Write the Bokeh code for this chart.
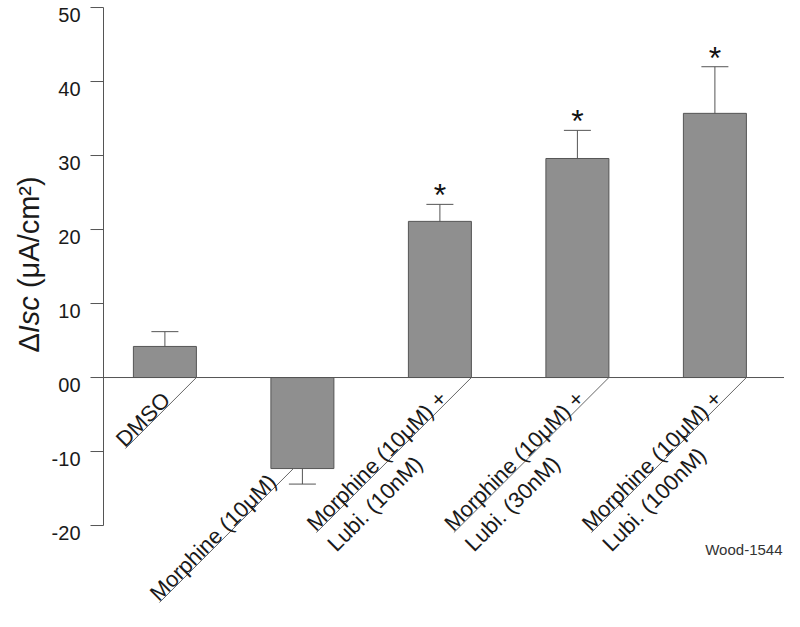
import math
from bokeh.plotting import figure
from bokeh.models import ColumnDataSource
from bokeh.core.properties import value
from bokeh.embed import file_html
from bokeh.resources import INLINE

# ---------------- data ----------------
categories = ["DMSO", "Morphine (10μM)", "Morphine (10μM) + Lubi. (10nM)",
              "Morphine (10μM) + Lubi. (30nM)", "Morphine (10μM) + Lubi. (100nM)"]
label_line1 = ["DMSO", "Morphine (10μM)", "Morphine (10μM) +", "Morphine (10μM) +", "Morphine (10μM) +"]
label_line2 = ["", "", "Lubi. (10nM)", "Lubi. (30nM)", "Lubi. (100nM)"]
means = [4.2, -12.3, 21.1, 29.6, 35.7]
sems = [2.0, 2.1, 2.3, 3.8, 6.3]
significant = [False, False, True, True, True]
y_ticks = [-20, -10, 0, 10, 20, 30, 40, 50]
y_tick_labels = ["-20", "-10", "00", "10", "20", "30", "40", "50"]
note_text = "Wood-1544"

# ---------------- layout ----------------
W, H = 784, 611
PX_X = 137.5                 # pixels per category step
X_START = -1.1956
X_END = X_START + W / PX_X
PX_Y = 7.4                   # pixels per y unit
Y_END = 50.95
Y_START = Y_END - H / PX_Y
AXIS_X = X_START + 103 / PX_X   # y-axis line position

BAR_W = 63 / PX_X
CAP_W = 27 / PX_X
anchor_px = [31.5, -9, 31.5, 31.5, 31.5]     # upper end of label rule, relative to bar centre
rule_len_px = [71, 134, 155, 155, 155]        # horizontal extent of the 45° rule
ABOVE_PX = 8
BELOW_PX = 21

FONT = "Liberation Sans"
GRAY_LINE = "#555555"
BAR_FILL = "#8f8f8f"
TEXT_C = "#1a1a1a"

p = figure(width=W, height=H, x_range=(X_START, X_END), y_range=(Y_START, Y_END),
           output_backend="svg", toolbar_location=None, x_axis_location=None, y_axis_location=None,
           min_border_left=0, min_border_right=0, min_border_top=0, min_border_bottom=0)
p.grid.visible = False
p.outline_line_color = None

xs = list(range(len(categories)))
err_end = [m + (s if m >= 0 else -s) for m, s in zip(means, sems)]

# bars
p.vbar(x=xs, top=means, bottom=0, width=BAR_W, fill_color=BAR_FILL, line_color=GRAY_LINE, line_width=1)

# zero line
p.segment(x0=[AXIS_X], y0=[0], x1=[X_END], y1=[0], line_color=GRAY_LINE, line_width=1)

# error bars
p.segment(x0=xs, y0=means, x1=xs, y1=err_end, line_color=GRAY_LINE, line_width=1)
p.segment(x0=[x - CAP_W / 2 for x in xs], y0=err_end, x1=[x + CAP_W / 2 for x in xs], y1=err_end,
          line_color=GRAY_LINE, line_width=1)

# stars
sx = [x for x, s in zip(xs, significant) if s]
sy = [e + 9 / PX_Y for e, s in zip(err_end, significant) if s]
p.text(x=sx, y=sy, text=["*"] * len(sx), text_font=value(FONT), text_font_size="32px",
       text_align="center", text_baseline="alphabetic", text_color="#111111")

# category labels with 45° rules
ux, uy, lx, ly = [], [], [], []
for i, m in enumerate(means):
    x_up = i + anchor_px[i] / PX_X
    y_up = min(m, 0)
    ux.append(x_up); uy.append(y_up)
    lx.append(x_up - rule_len_px[i] / PX_X)
    ly.append(y_up - rule_len_px[i] / PX_Y)
p.segment(x0=lx, y0=ly, x1=ux, y1=uy, line_color="#666666", line_width=1)

d_up = ABOVE_PX / math.sqrt(2)
d_dn = BELOW_PX / math.sqrt(2)
t1 = ColumnDataSource(dict(x=[x - d_up / PX_X for x in lx], y=[y + d_up / PX_Y for y in ly], t=label_line1))
p.text(x="x", y="y", text="t", source=t1, angle=math.pi / 4, text_font=value(FONT),
       text_font_size="22px", text_align="left", text_baseline="alphabetic", text_color=TEXT_C)
idx2 = [i for i, t in enumerate(label_line2) if t]
t2 = ColumnDataSource(dict(x=[lx[i] + d_dn / PX_X for i in idx2], y=[ly[i] - d_dn / PX_Y for i in idx2],
                           t=[label_line2[i] for i in idx2]))
p.text(x="x", y="y", text="t", source=t2, angle=math.pi / 4, text_font=value(FONT),
       text_font_size="22px", text_align="left", text_baseline="alphabetic", text_color=TEXT_C)

# note
p.text(x=[X_END - 2 / PX_X], y=[-(557 - 385) / PX_Y], text=[note_text], text_font=value(FONT),
       text_font_size="15px", text_align="right", text_baseline="alphabetic", text_color="#333333")

# y axis (drawn by hand so the title can mix styles)
TICK_FS = 20
p.segment(x0=[AXIS_X], y0=[y_ticks[0]], x1=[AXIS_X], y1=[y_ticks[-1]], line_color=GRAY_LINE, line_width=1)
p.segment(x0=[AXIS_X - 13 / PX_X] * len(y_ticks), y0=y_ticks, x1=[AXIS_X] * len(y_ticks), y1=y_ticks,
          line_color=GRAY_LINE, line_width=1)
p.text(x=[AXIS_X - 23 / PX_X] * len(y_ticks), y=[t - 0.36 * TICK_FS / PX_Y for t in y_ticks],
       text=y_tick_labels, text_font=value(FONT), text_font_size=f"{TICK_FS}px",
       text_align="right", text_baseline="alphabetic", text_color=TEXT_C)

# y title pieces: "Δ" + italic "Isc" + space + "(μA/cm²)"
TS = 29
title_x = X_START + (36 - 8) / PX_X
cur = (385 - 360) / PX_Y
pieces = [("Δ", "normal", 0.667), ("Isc", "italic", 1.278), ("", "normal", 0.278), ("(μA/cm²)", "normal", 3.853)]
for txt, style, em in pieces:
    if txt:
        p.text(x=[title_x], y=[cur], text=[txt], angle=math.pi / 2, text_font=value(FONT),
               text_font_size=f"{TS}px", text_font_style=style, text_align="left",
               text_baseline="alphabetic", text_color=TEXT_C)
    cur += em * TS / PX_Y

open("out.html", "w").write(file_html(p, INLINE))
